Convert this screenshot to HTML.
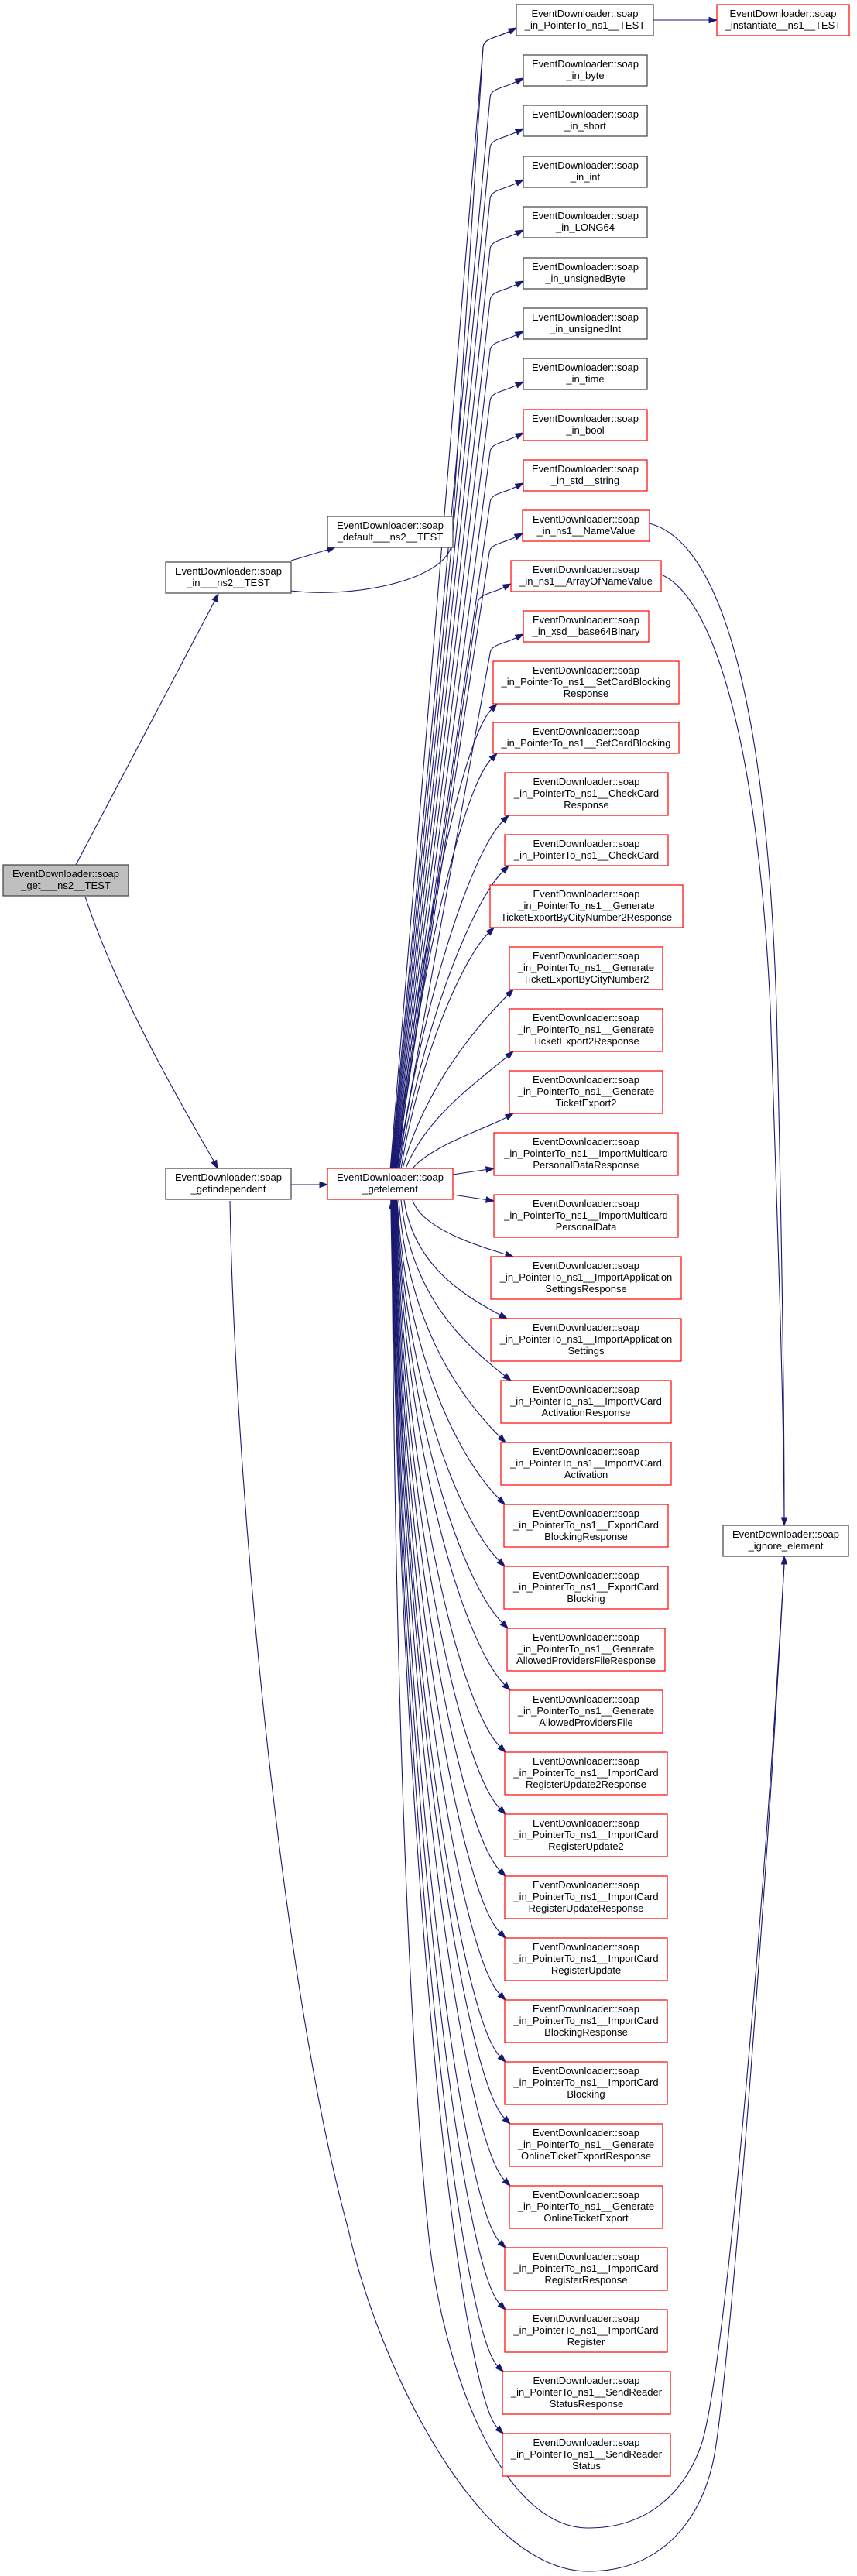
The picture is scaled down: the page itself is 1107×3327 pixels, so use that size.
<!DOCTYPE html>
<html>
<head>
<meta charset="utf-8">
<style>
html,body{margin:0;padding:0;background:#fff;}
svg{display:block;}
text{font-family:"Liberation Sans",Arial,sans-serif;font-size:13px;fill:#000;text-anchor:middle;}
.e{fill:none;stroke:#191970;stroke-width:1.1;}
.a{fill:#191970;stroke:#191970;stroke-width:1;}
.nb{fill:#fff;stroke:#404040;stroke-width:1.2;}
.nr{fill:#fff;stroke:#ff0000;stroke-width:1.2;}
</style>
</head>
<body>
<svg width="1107" height="3327" viewBox="0 0 1107 3327" xmlns="http://www.w3.org/2000/svg">
<rect x="0" y="0" width="1107" height="3327" fill="#fff"/>

<!-- ============ EDGES ============ -->
<!-- left side -->
<path class="e" d="M98,1117 L277.4,775.9"/>
<path class="a" d="M282,767 L280.5,777.5 L274.3,774.3 Z"/>
<path class="e" d="M110,1158 C150,1280 230,1420 276.5,1500"/>
<path class="a" d="M281,1509 L273.3,1501.6 L279.7,1498.4 Z"/>
<path class="e" d="M376,724 L423.4,709.9"/>
<path class="a" d="M433,707 L424.4,713.2 L422.4,706.5 Z"/>
<path class="e" d="M376,1530 L413,1530"/>
<path class="a" d="M423,1530 L413,1526.4 L413,1533.6 Z"/>
<path class="e" d="M376,763 C455,773 572,750 583,705 L624,61 C625.2,49 640.06,49.47 658.06,40.47"/>
<path class="e" d="M844,26 L916,26"/>
<path class="a" d="M926,26 L916,22.4 L916,29.6 Z"/>

<!-- getelement to top nodes -->
<path class="e" d="M504.2,1509 L624,61 C625.2,49 640.06,49.47 658.06,40.47"/>
<path class="a" d="M667,36 L659.67,43.69 L656.45,37.25 Z"/>
<path class="e" d="M504.9,1509 L633,126 C634.2,114 649.06,114.47 667.06,105.47"/>
<path class="a" d="M676,101 L668.67,108.69 L665.45,102.25 Z"/>
<path class="e" d="M505.6,1509 L633,191 C634.2,179 649.06,179.47 667.06,170.47"/>
<path class="a" d="M676,166 L668.67,173.69 L665.45,167.25 Z"/>
<path class="e" d="M506.3,1509 L633,257 C634.2,245 649.06,245.47 667.06,236.47"/>
<path class="a" d="M676,232 L668.67,239.69 L665.45,233.25 Z"/>
<path class="e" d="M507,1509 L633,322 C634.2,310 649.06,310.47 667.06,301.47"/>
<path class="a" d="M676,297 L668.67,304.69 L665.45,298.25 Z"/>
<path class="e" d="M507.7,1509 L633,388 C634.2,376 649.06,376.47 667.06,367.47"/>
<path class="a" d="M676,363 L668.67,370.69 L665.45,364.25 Z"/>
<path class="e" d="M508.4,1509 L633,453 C634.2,441 649.06,441.47 667.06,432.47"/>
<path class="a" d="M676,428 L668.67,435.69 L665.45,429.25 Z"/>
<path class="e" d="M509.1,1509 L633,518 C634.2,506 649.06,506.47 667.06,497.47"/>
<path class="a" d="M676,493 L668.67,500.69 L665.45,494.25 Z"/>
<path class="e" d="M509.8,1509 L633,584 C634.2,572 649.06,572.47 667.06,563.47"/>
<path class="a" d="M676,559 L668.67,566.69 L665.45,560.25 Z"/>
<path class="e" d="M510.5,1509 L633,649 C634.2,637 649.06,637.47 667.06,628.47"/>
<path class="a" d="M676,624 L668.67,631.69 L665.45,625.25 Z"/>
<path class="e" d="M511.2,1509 L632,714 C633.2,702 648.06,702.47 666.06,693.47"/>
<path class="a" d="M675,689 L667.67,696.69 L664.45,690.25 Z"/>
<path class="e" d="M511.9,1509 L617,779 C618.2,767 633.06,767.47 651.06,758.47"/>
<path class="a" d="M660,754 L652.67,761.69 L649.45,755.25 Z"/>
<path class="e" d="M512.6,1509 L633,844 C634.2,832 649.06,832.47 667.06,823.47"/>
<path class="a" d="M676,819 L668.67,826.69 L665.45,820.25 Z"/>
<path class="e" d="M513,1509 C537.4,1242.2 596.1,954.9 634.93,916.07"/>
<path class="a" d="M642,909 L637.48,918.62 L632.38,913.52 Z"/>
<path class="e" d="M514,1509 C538.2,1271 596.5,1018.5 634.93,980.07"/>
<path class="a" d="M642,973 L637.48,982.62 L632.38,977.52 Z"/>
<path class="e" d="M515,1509 C542,1307 607,1103 649.93,1060.07"/>
<path class="a" d="M657,1053 L652.48,1062.62 L647.38,1057.52 Z"/>
<path class="e" d="M516,1509 C542.8,1336.2 607.3,1167.7 649.93,1125.07"/>
<path class="a" d="M657,1118 L652.48,1127.62 L647.38,1122.52 Z"/>
<path class="e" d="M518,1509 C540.6,1372.2 595,1241 630.93,1205.07"/>
<path class="a" d="M638,1198 L633.48,1207.62 L628.38,1202.52 Z"/>
<path class="e" d="M520,1509 C547.2,1408.2 612.7,1328.3 655.93,1285.07"/>
<path class="a" d="M663,1278 L658.48,1287.62 L653.38,1282.52 Z"/>
<path class="e" d="M524,1509 C550.3,1443.9 611,1401.6 655.34,1364.43"/>
<path class="a" d="M663,1358 L657.65,1367.19 L653.03,1361.67 Z"/>
<path class="e" d="M533,1509 C557.3,1479.3 631.5,1456.2 654.34,1443"/>
<path class="a" d="M663,1438 L656.14,1446.12 L652.54,1439.88 Z"/>
<path class="e" d="M585,1517 L628.1,1510.5"/>
<path class="a" d="M638,1509 L628.64,1514.06 L627.56,1506.94 Z"/>
<path class="e" d="M585,1543 L628.1,1549.5"/>
<path class="a" d="M638,1551 L627.56,1553.06 L628.64,1545.94 Z"/>

<!-- getelement to bottom nodes -->
<path class="e" d="M533,1550 C545,1588.6 626.7,1611.9 653.44,1620.08"/>
<path class="a" d="M663,1623 L652.39,1623.52 L654.49,1616.64 Z"/>
<path class="e" d="M522,1550 C534.4,1631.6 593.8,1670.5 646.17,1698.31"/>
<path class="a" d="M655,1703 L644.48,1701.49 L647.86,1695.13 Z"/>
<path class="e" d="M518,1550 C531.4,1674.7 599.3,1735.5 652.12,1776.84"/>
<path class="a" d="M660,1783 L649.9,1779.68 L654.34,1774 Z"/>
<path class="e" d="M515,1550 C528.1,1718.2 599.6,1809.6 645.93,1855.93"/>
<path class="a" d="M653,1863 L643.38,1858.48 L648.48,1853.38 Z"/>
<path class="e" d="M513,1550 C526.2,1762.3 598.3,1889.3 644.93,1935.93"/>
<path class="a" d="M652,1943 L642.38,1938.48 L647.48,1933.38 Z"/>
<path class="e" d="M512.45,1550 C525.7,1806.3 598.1,1969.1 644.93,2015.93"/>
<path class="a" d="M652,2023 L642.38,2018.48 L647.48,2013.38 Z"/>
<path class="e" d="M511.9,1550 C525.6,1850.3 600.5,2047.5 648.93,2095.93"/>
<path class="a" d="M656,2103 L646.38,2098.48 L651.48,2093.38 Z"/>
<path class="e" d="M511.35,1550 C525.4,1894.3 602.2,2126.2 651.93,2175.93"/>
<path class="a" d="M659,2183 L649.38,2178.48 L654.48,2173.38 Z"/>
<path class="e" d="M510.8,1550 C524.3,1938.3 598.2,2208.2 645.93,2255.93"/>
<path class="a" d="M653,2263 L643.38,2258.48 L648.48,2253.38 Z"/>
<path class="e" d="M510.25,1550 C523.8,1982.3 598,2288 645.93,2335.93"/>
<path class="a" d="M653,2343 L643.38,2338.48 L648.48,2333.38 Z"/>
<path class="e" d="M509.7,1550 C523.3,2026.3 597.8,2367.8 645.93,2415.93"/>
<path class="a" d="M653,2423 L643.38,2418.48 L648.48,2413.38 Z"/>
<path class="e" d="M509.15,1550 C522.8,2070.3 597.6,2447.6 645.93,2495.93"/>
<path class="a" d="M653,2503 L643.38,2498.48 L648.48,2493.38 Z"/>
<path class="e" d="M508.6,1550 C522.3,2114.3 597.4,2527.4 645.93,2575.93"/>
<path class="a" d="M653,2583 L643.38,2578.48 L648.48,2573.38 Z"/>
<path class="e" d="M508.05,1550 C521.8,2158.3 597.2,2607.2 645.93,2655.93"/>
<path class="a" d="M653,2663 L643.38,2658.48 L648.48,2653.38 Z"/>
<path class="e" d="M507.5,1550 C521.9,2202.3 600.9,2684.9 651.93,2735.93"/>
<path class="a" d="M659,2743 L649.38,2738.48 L654.48,2733.38 Z"/>
<path class="e" d="M506.95,1550 C521.4,2246.3 600.7,2764.7 651.93,2815.93"/>
<path class="a" d="M659,2823 L649.38,2818.48 L654.48,2813.38 Z"/>
<path class="e" d="M506.4,1550 C520.4,2290.3 596.6,2846.6 645.93,2895.93"/>
<path class="a" d="M653,2903 L643.38,2898.48 L648.48,2893.38 Z"/>
<path class="e" d="M505.85,1550 C519.9,2334.3 596.4,2926.4 645.93,2975.93"/>
<path class="a" d="M653,2983 L643.38,2978.48 L648.48,2973.38 Z"/>
<path class="e" d="M505.3,1550 C519.1,2378.3 594.3,3007.3 642.93,3055.93"/>
<path class="a" d="M650,3063 L640.38,3058.48 L645.48,3053.38 Z"/>
<path class="e" d="M504.75,1550 C518.6,2422.3 594.1,3087.1 642.93,3135.93"/>
<path class="a" d="M650,3143 L640.38,3138.48 L645.48,3133.38 Z"/>

<!-- arrow into getelement bottom -->
<path class="a" d="M506,1551 L502.4,1561 L509.6,1561 Z"/>

<!-- arcs to ignore_element -->
<path class="e" d="M297,1551 C303,1900 360,2550 450,2880 C490,3060 620,3321 760,3321 C850,3321 905,3260 922,3175 C940,3085 987,2500 1013,2020"/>
<path class="e" d="M506,1561 C510,2200 530,2650 553,2880 C571,3064 650,3265 760,3265 C840,3265 885,3215 905,3160 C935,3078 985,2500 1013,2020"/>
<path class="a" d="M1013,2010 L1009.4,2020 L1016.6,2020 Z"/>

<!-- NameValue / ArrayOfNameValue to ignore_element -->
<path class="e" d="M839,676 C930,700 990,900 1003,1300 C1010,1600 1013,1800 1013,1960"/>
<path class="e" d="M854,742 C920,770 978,950 995,1300 C1005,1600 1012,1800 1013,1960"/>
<path class="a" d="M1013,1970 L1009.4,1960 L1016.6,1960 Z"/>

<!-- ============ NODES ============ -->
<rect x="4" y="1117" width="162" height="40" fill="#bfbfbf" stroke="#404040" stroke-width="1.2"/>
<text x="85" y="1133">EventDownloader::soap</text><text x="85" y="1148">_get___ns2__TEST</text>

<rect class="nb" x="214" y="726" width="162" height="40"/>
<text x="295" y="742">EventDownloader::soap</text><text x="295" y="757">_in___ns2__TEST</text>

<rect class="nb" x="214" y="1509" width="162" height="40"/>
<text x="295" y="1525">EventDownloader::soap</text><text x="295" y="1540">_getindependent</text>

<rect class="nb" x="423" y="667" width="162" height="40"/>
<text x="504" y="683">EventDownloader::soap</text><text x="504" y="698">_default___ns2__TEST</text>

<rect class="nr" x="423" y="1509" width="162" height="40"/>
<text x="504" y="1525">EventDownloader::soap</text><text x="504" y="1540">_getelement</text>

<rect class="nr" x="926" y="6" width="171" height="40"/>
<text x="1011.5" y="22">EventDownloader::soap</text><text x="1011.5" y="37">_instantiate__ns1__TEST</text>

<rect class="nb" x="934" y="1970" width="162" height="40"/>
<text x="1015" y="1986">EventDownloader::soap</text><text x="1015" y="2001">_ignore_element</text>

<!-- column D -->
<rect class="nb" x="667" y="6" width="177" height="40"/>
<text x="755.5" y="22">EventDownloader::soap</text><text x="755.5" y="37">_in_PointerTo_ns1__TEST</text>

<rect class="nb" x="676" y="71" width="160" height="40"/>
<text x="756" y="87">EventDownloader::soap</text><text x="756" y="102">_in_byte</text>

<rect class="nb" x="676" y="136" width="160" height="40"/>
<text x="756" y="152">EventDownloader::soap</text><text x="756" y="167">_in_short</text>

<rect class="nb" x="676" y="202" width="160" height="40"/>
<text x="756" y="218">EventDownloader::soap</text><text x="756" y="233">_in_int</text>

<rect class="nb" x="676" y="267" width="160" height="40"/>
<text x="756" y="283">EventDownloader::soap</text><text x="756" y="298">_in_LONG64</text>

<rect class="nb" x="676" y="333" width="160" height="40"/>
<text x="756" y="349">EventDownloader::soap</text><text x="756" y="364">_in_unsignedByte</text>

<rect class="nb" x="676" y="398" width="160" height="40"/>
<text x="756" y="414">EventDownloader::soap</text><text x="756" y="429">_in_unsignedInt</text>

<rect class="nb" x="676" y="463" width="160" height="40"/>
<text x="756" y="479">EventDownloader::soap</text><text x="756" y="494">_in_time</text>

<rect class="nr" x="676" y="529" width="160" height="40"/>
<text x="756" y="545">EventDownloader::soap</text><text x="756" y="560">_in_bool</text>

<rect class="nr" x="676" y="594" width="160" height="40"/>
<text x="756" y="610">EventDownloader::soap</text><text x="756" y="625">_in_std__string</text>

<rect class="nr" x="675" y="659" width="164" height="40"/>
<text x="757" y="675">EventDownloader::soap</text><text x="757" y="690">_in_ns1__NameValue</text>

<rect class="nr" x="660" y="724" width="194" height="40"/>
<text x="757" y="740">EventDownloader::soap</text><text x="757" y="755">_in_ns1__ArrayOfNameValue</text>

<rect class="nr" x="676" y="789" width="162" height="40"/>
<text x="757" y="805">EventDownloader::soap</text><text x="757" y="820">_in_xsd__base64Binary</text>

<rect class="nr" x="637" y="854" width="240" height="55"/>
<text x="757" y="870">EventDownloader::soap</text><text x="757" y="885">_in_PointerTo_ns1__SetCardBlocking</text><text x="757" y="900">Response</text>

<rect class="nr" x="637" y="933" width="240" height="40"/>
<text x="757" y="949">EventDownloader::soap</text><text x="757" y="964">_in_PointerTo_ns1__SetCardBlocking</text>

<rect class="nr" x="652" y="998" width="211" height="55"/>
<text x="757.5" y="1014">EventDownloader::soap</text><text x="757.5" y="1029">_in_PointerTo_ns1__CheckCard</text><text x="757.5" y="1044">Response</text>

<rect class="nr" x="652" y="1078" width="211" height="40"/>
<text x="757.5" y="1094">EventDownloader::soap</text><text x="757.5" y="1109">_in_PointerTo_ns1__CheckCard</text>

<rect class="nr" x="633" y="1143" width="249" height="55"/>
<text x="757.5" y="1159">EventDownloader::soap</text><text x="757.5" y="1174">_in_PointerTo_ns1__Generate</text><text x="757.5" y="1189">TicketExportByCityNumber2Response</text>

<rect class="nr" x="658" y="1223" width="198" height="55"/>
<text x="757" y="1239">EventDownloader::soap</text><text x="757" y="1254">_in_PointerTo_ns1__Generate</text><text x="757" y="1269">TicketExportByCityNumber2</text>

<rect class="nr" x="658" y="1303" width="198" height="55"/>
<text x="757" y="1319">EventDownloader::soap</text><text x="757" y="1334">_in_PointerTo_ns1__Generate</text><text x="757" y="1349">TicketExport2Response</text>

<rect class="nr" x="658" y="1383" width="198" height="55"/>
<text x="757" y="1399">EventDownloader::soap</text><text x="757" y="1414">_in_PointerTo_ns1__Generate</text><text x="757" y="1429">TicketExport2</text>

<rect class="nr" x="638" y="1463" width="238" height="55"/>
<text x="757" y="1479">EventDownloader::soap</text><text x="757" y="1494">_in_PointerTo_ns1__ImportMulticard</text><text x="757" y="1509">PersonalDataResponse</text>

<rect class="nr" x="638" y="1543" width="238" height="55"/>
<text x="757" y="1559">EventDownloader::soap</text><text x="757" y="1574">_in_PointerTo_ns1__ImportMulticard</text><text x="757" y="1589">PersonalData</text>

<rect class="nr" x="634" y="1623" width="246" height="55"/>
<text x="757" y="1639">EventDownloader::soap</text><text x="757" y="1654">_in_PointerTo_ns1__ImportApplication</text><text x="757" y="1669">SettingsResponse</text>

<rect class="nr" x="634" y="1703" width="246" height="55"/>
<text x="757" y="1719">EventDownloader::soap</text><text x="757" y="1734">_in_PointerTo_ns1__ImportApplication</text><text x="757" y="1749">Settings</text>

<rect class="nr" x="647" y="1783" width="220" height="55"/>
<text x="757" y="1799">EventDownloader::soap</text><text x="757" y="1814">_in_PointerTo_ns1__ImportVCard</text><text x="757" y="1829">ActivationResponse</text>

<rect class="nr" x="647" y="1863" width="220" height="55"/>
<text x="757" y="1879">EventDownloader::soap</text><text x="757" y="1894">_in_PointerTo_ns1__ImportVCard</text><text x="757" y="1909">Activation</text>

<rect class="nr" x="651" y="1943" width="212" height="55"/>
<text x="757" y="1959">EventDownloader::soap</text><text x="757" y="1974">_in_PointerTo_ns1__ExportCard</text><text x="757" y="1989">BlockingResponse</text>

<rect class="nr" x="651" y="2023" width="212" height="55"/>
<text x="757" y="2039">EventDownloader::soap</text><text x="757" y="2054">_in_PointerTo_ns1__ExportCard</text><text x="757" y="2069">Blocking</text>

<rect class="nr" x="655" y="2103" width="204" height="55"/>
<text x="757" y="2119">EventDownloader::soap</text><text x="757" y="2134">_in_PointerTo_ns1__Generate</text><text x="757" y="2149">AllowedProvidersFileResponse</text>

<rect class="nr" x="658" y="2183" width="198" height="55"/>
<text x="757" y="2199">EventDownloader::soap</text><text x="757" y="2214">_in_PointerTo_ns1__Generate</text><text x="757" y="2229">AllowedProvidersFile</text>

<rect class="nr" x="652" y="2263" width="210" height="55"/>
<text x="757" y="2279">EventDownloader::soap</text><text x="757" y="2294">_in_PointerTo_ns1__ImportCard</text><text x="757" y="2309">RegisterUpdate2Response</text>

<rect class="nr" x="652" y="2343" width="210" height="55"/>
<text x="757" y="2359">EventDownloader::soap</text><text x="757" y="2374">_in_PointerTo_ns1__ImportCard</text><text x="757" y="2389">RegisterUpdate2</text>

<rect class="nr" x="652" y="2423" width="210" height="55"/>
<text x="757" y="2439">EventDownloader::soap</text><text x="757" y="2454">_in_PointerTo_ns1__ImportCard</text><text x="757" y="2469">RegisterUpdateResponse</text>

<rect class="nr" x="652" y="2503" width="210" height="55"/>
<text x="757" y="2519">EventDownloader::soap</text><text x="757" y="2534">_in_PointerTo_ns1__ImportCard</text><text x="757" y="2549">RegisterUpdate</text>

<rect class="nr" x="652" y="2583" width="210" height="55"/>
<text x="757" y="2599">EventDownloader::soap</text><text x="757" y="2614">_in_PointerTo_ns1__ImportCard</text><text x="757" y="2629">BlockingResponse</text>

<rect class="nr" x="652" y="2663" width="210" height="55"/>
<text x="757" y="2679">EventDownloader::soap</text><text x="757" y="2694">_in_PointerTo_ns1__ImportCard</text><text x="757" y="2709">Blocking</text>

<rect class="nr" x="658" y="2743" width="198" height="55"/>
<text x="757" y="2759">EventDownloader::soap</text><text x="757" y="2774">_in_PointerTo_ns1__Generate</text><text x="757" y="2789">OnlineTicketExportResponse</text>

<rect class="nr" x="658" y="2823" width="198" height="55"/>
<text x="757" y="2839">EventDownloader::soap</text><text x="757" y="2854">_in_PointerTo_ns1__Generate</text><text x="757" y="2869">OnlineTicketExport</text>

<rect class="nr" x="652" y="2903" width="210" height="55"/>
<text x="757" y="2919">EventDownloader::soap</text><text x="757" y="2934">_in_PointerTo_ns1__ImportCard</text><text x="757" y="2949">RegisterResponse</text>

<rect class="nr" x="652" y="2983" width="210" height="55"/>
<text x="757" y="2999">EventDownloader::soap</text><text x="757" y="3014">_in_PointerTo_ns1__ImportCard</text><text x="757" y="3029">Register</text>

<rect class="nr" x="649" y="3063" width="217" height="55"/>
<text x="757.5" y="3079">EventDownloader::soap</text><text x="757.5" y="3094">_in_PointerTo_ns1__SendReader</text><text x="757.5" y="3109">StatusResponse</text>

<rect class="nr" x="649" y="3143" width="217" height="55"/>
<text x="757.5" y="3159">EventDownloader::soap</text><text x="757.5" y="3174">_in_PointerTo_ns1__SendReader</text><text x="757.5" y="3189">Status</text>
</svg>
</body>
</html>
